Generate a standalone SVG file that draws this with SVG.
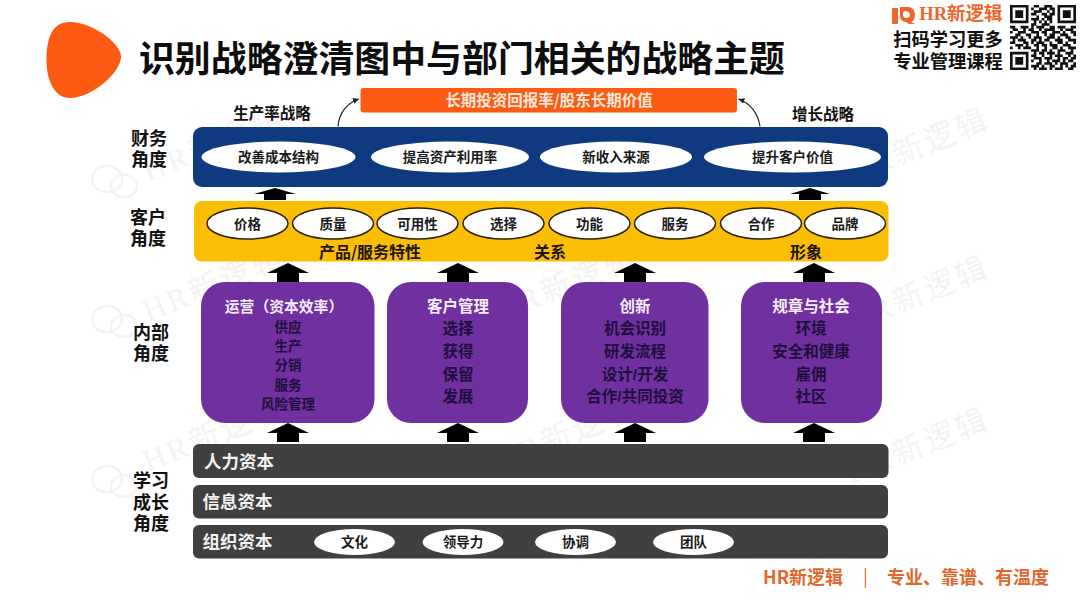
<svg xmlns="http://www.w3.org/2000/svg" width="1080" height="608" viewBox="0 0 1080 608">
<style>
text{font-family:"Noto Sans CJK SC","Noto Sans",sans-serif;font-weight:700;text-anchor:middle;dominant-baseline:central}
.wm{font-family:"Liberation Serif","Noto Sans CJK SC",serif;font-size:31px;font-weight:400;fill:#f3f3f3;letter-spacing:3px;text-anchor:start;dominant-baseline:auto}
.wi{fill:none;stroke:#f3f3f3;stroke-width:2.5}
.lab{font-family:"Liberation Sans","Noto Sans CJK SC",sans-serif;font-size:18px;fill:#111}
.br{font-family:"Liberation Sans","Noto Sans CJK SC",sans-serif;font-size:18.3px;fill:#111}
.top{font-size:15.5px;fill:#111}
.el{fill:#fff}
.elo{fill:#fff;stroke:#2b2208;stroke-width:1.5}
.et{font-size:13.5px;fill:#1a1a1a}
.hd{font-size:15.5px;fill:#f6eefc}
.it{font-family:"Liberation Sans","Noto Sans CJK SC",sans-serif;font-size:15.5px;fill:#1d0f3c}
.its{font-family:"Liberation Sans","Noto Sans CJK SC",sans-serif;font-size:13.5px;fill:#1d0f3c}
.pb{fill:#7030a0}
.db{fill:#404040}
.dt{font-size:17.5px;fill:#f2f2f2;text-anchor:start}
.ar{fill:#000}
.cv{fill:none;stroke:#222;stroke-width:1.2;marker-end:url(#tip)}
.f{font-size:18px;fill:#e2672c;text-anchor:start}
</style>
<defs>
<marker id="tip" markerWidth="8" markerHeight="8" refX="6" refY="3" orient="auto" markerUnits="userSpaceOnUse"><path d="M0 0L6 3L0 6Z" fill="#222"/></marker>
<g id="wi"><ellipse class="wi" cx="15" cy="14" rx="15" ry="13"/><ellipse class="wi" cx="32" cy="21" rx="13" ry="11"/></g>
</defs>
<rect width="1080" height="608" fill="#fff"/>
<g id="watermarks">
<use href="#wi" x="92" y="165"/><use href="#wi" x="92" y="305"/><use href="#wi" x="92" y="465"/>
<text class="wm" transform="translate(148 182) rotate(-22)">HR新逻辑</text>
<text class="wm" transform="translate(148 322) rotate(-22)">HR新逻辑</text>
<text class="wm" transform="translate(148 472) rotate(-22)">HR新逻辑</text>
<text class="wm" transform="translate(500 322) rotate(-22)">HR新逻辑</text>
<text class="wm" transform="translate(500 472) rotate(-22)">HR新逻辑</text>
<text class="wm" transform="translate(852 184) rotate(-22)">HR新逻辑</text>
<text class="wm" transform="translate(852 332) rotate(-22)">HR新逻辑</text>
<text class="wm" transform="translate(852 484) rotate(-22)">HR新逻辑</text>
</g>
<path id="blob" d="M70 22C92 22 121 43 121 57C121 72 92 98 70 98C54 98 46.500 80 46.500 60C46.500 38 52 22 70 22Z" fill="#fd5a14"/>
<text id="title" x="462" y="55.500" style="font-size:35.900px;fill:#0d0d0d">识别战略澄清图中与部门相关的战略主题</text>
<g id="brand">
<path d="M892 8h6v16h-6zM900 7h8c5 0 7 4 7 8s-2 6-4 7l4 2h-6l-3-2c-4 0-6-3-6-7s0-5 0-8zM905 11c-2 0-2 3-2 4s1 3 3 3 4-1 4-3-2-4-5-4z" fill="#f0662a" fill-rule="evenodd"/>
<text x="961" y="14" style="font-family:'Liberation Serif','Noto Sans CJK SC',serif;font-size:18.500px;fill:#f0662a">HR新逻辑</text>
<text class="br"><tspan x="948" y="38.500">扫码学习更多</tspan><tspan x="948" y="61">专业管理课程</tspan></text>
<path transform="translate(1010 5) scale(2.64 2.6)" fill="none" stroke="#111" stroke-width="1" d="M0 .5h7M0 1.500h1M6 1.500h1M0 2.500h1M2 2.500h3M6 2.500h1M0 3.500h1M2 3.500h3M6 3.500h1M0 4.500h1M2 4.500h3M6 4.500h1M0 5.500h1M6 5.500h1M0 6.500h7M18 .5h7M18 1.500h1M24 1.500h1M18 2.500h1M20 2.500h3M24 2.500h1M18 3.500h1M20 3.500h3M24 3.500h1M18 4.500h1M20 4.500h3M24 4.500h1M18 5.500h1M24 5.500h1M18 6.500h7M0 18.500h7M0 19.500h1M6 19.500h1M0 20.500h1M2 20.500h3M6 20.500h1M0 21.500h1M2 21.500h3M6 21.500h1M0 22.500h1M2 22.500h3M6 22.500h1M0 23.500h1M6 23.500h1M0 24.500h7M9 .5h2M13 .5h3M8 1.500h1M11 1.500h3M15 1.500h2M9 2.500h3M14 2.500h1M16 2.500h1M8 3.500h2M12 3.500h2M15 3.500h2M10 4.500h1M13 4.500h3M8 5.500h3M12 5.500h1M14 5.500h2M9 6.500h1M11 6.500h1M13 6.500h1M15 6.500h1M8 7.500h2M12 7.500h3M0 8.500h2M4 8.500h3M8 8.500h1M10 8.500h3M15 8.500h2M18 8.500h3M23 8.500h2M1 9.500h2M5 9.500h1M7 9.500h2M11 9.500h1M13 9.500h4M19 9.500h1M21 9.500h3M0 10.500h1M3 10.500h3M8 10.500h3M12 10.500h2M16 10.500h3M20 10.500h1M23 10.500h2M2 11.500h2M6 11.500h2M10 11.500h1M13 11.500h1M15 11.500h2M19 11.500h3M24 11.500h1M0 12.500h3M4 12.500h1M7 12.500h1M9 12.500h3M14 12.500h3M18 12.500h1M21 12.500h2M1 13.500h1M3 13.500h3M8 13.500h2M11 13.500h1M13 13.500h2M17 13.500h3M22 13.500h3M0 14.500h2M5 14.500h2M8 14.500h1M10 14.500h3M15 14.500h1M18 14.500h2M21 14.500h1M24 14.500h1M2 15.500h3M6 15.500h1M9 15.500h2M12 15.500h2M15 15.500h3M20 15.500h3M0 16.500h1M3 16.500h1M5 16.500h3M10 16.500h1M13 16.500h1M16 16.500h2M19 16.500h1M22 16.500h3M8 17.500h3M12 17.500h2M15 17.500h1M18 17.500h3M23 17.500h1M9 18.500h1M11 18.500h2M14 18.500h3M18 18.500h1M21 18.500h3M8 19.500h2M12 19.500h1M15 19.500h1M17 19.500h3M22 19.500h1M24 19.500h1M9 20.500h3M13 20.500h3M18 20.500h1M20 20.500h2M23 20.500h2M8 21.500h1M11 21.500h1M14 21.500h1M16 21.500h3M20 21.500h1M22 21.500h2M10 22.500h2M13 22.500h3M17 22.500h1M19 22.500h3M24 22.500h1M8 23.500h3M12 23.500h1M15 23.500h2M19 23.500h1M21 23.500h1M23 23.500h2M9 24.500h1M11 24.500h3M15 24.500h1M17 24.500h3M22 24.500h2"/>
</g>
<g id="connectors">
<path class="cv" d="M338 126.500C339 113 347 103 359 99"/>
<path class="cv" d="M760 126.500C758 113 750 103 738.500 99"/>
<path class="ar" d="M254 194L275 188L296 194H286V200H264V194Z"/>
<path class="ar" d="M790 194L810 188L830 194H821V200H799V194Z"/>
<path class="ar" d="M267 273L288 263L309 273H299V282H277V273Z"/>
<path class="ar" d="M437 273L458 263L479 273H469V282H447V273Z"/>
<path class="ar" d="M614 273L635 263L656 273H646V282H624V273Z"/>
<path class="ar" d="M793 273L814 263L835 273H825V282H803V273Z"/>
<path class="ar" d="M267 433L288 423L309 433H299V442H277V433Z"/>
<path class="ar" d="M437 433L458 423L479 433H469V442H447V433Z"/>
<path class="ar" d="M614 433L635 423L656 433H646V442H624V433Z"/>
<path class="ar" d="M793 433L814 423L835 433H825V442H803V433Z"/>
</g>
<g id="labels">
<text class="lab"><tspan x="149" y="138.500">财务</tspan><tspan x="149" y="159.500">角度</tspan></text>
<text class="lab"><tspan x="148" y="217.500">客户</tspan><tspan x="148" y="238.500">角度</tspan></text>
<text class="lab"><tspan x="151" y="332.500">内部</tspan><tspan x="151" y="353.500">角度</tspan></text>
<text class="lab"><tspan x="151" y="480.500">学习</tspan><tspan x="151" y="502.500">成长</tspan><tspan x="151" y="523.500">角度</tspan></text>
<text class="top" x="272" y="111.500">生产率战略</text>
<text class="top" x="823" y="112.500">增长战略</text>
</g>
<g id="goal"><rect x="360.500" y="88" width="376.500" height="24.500" rx="3" fill="#fd5a14"/><text x="549" y="99" style="font-size:15.500px;fill:#fbe6da">长期投资回报率/股东长期价值</text></g>
<g id="finance">
<rect x="193" y="127" width="695" height="60" rx="9" fill="#0f3a80"/>
<ellipse class="el" cx="278.500" cy="157" rx="77" ry="15.500"/><text class="et" x="278.500" y="156">改善成本结构</text>
<ellipse class="el" cx="450" cy="157" rx="79" ry="15.500"/><text class="et" x="450" y="156">提高资产利用率</text>
<ellipse class="el" cx="616" cy="157" rx="76" ry="15.500"/><text class="et" x="616" y="156">新收入来源</text>
<ellipse class="el" cx="792.500" cy="157" rx="88.500" ry="15.500"/><text class="et" x="792.500" y="156">提升客户价值</text>
</g>
<g id="customer">
<rect x="194" y="201" width="694.500" height="60.500" rx="8" fill="#fcbd05"/>
<ellipse class="elo" cx="247.500" cy="223.500" rx="40.500" ry="15.500"/><text class="et" x="247.500" y="222.500">价格</text>
<ellipse class="elo" cx="333" cy="223.500" rx="40.500" ry="15.500"/><text class="et" x="333" y="222.500">质量</text>
<ellipse class="elo" cx="417.500" cy="223.500" rx="40.500" ry="15.500"/><text class="et" x="417.500" y="222.500">可用性</text>
<ellipse class="elo" cx="503.500" cy="223.500" rx="40.500" ry="15.500"/><text class="et" x="503.500" y="222.500">选择</text>
<ellipse class="elo" cx="589.500" cy="223.500" rx="40.500" ry="15.500"/><text class="et" x="589.500" y="222.500">功能</text>
<ellipse class="elo" cx="675" cy="223.500" rx="40.500" ry="15.500"/><text class="et" x="675" y="222.500">服务</text>
<ellipse class="elo" cx="761" cy="223.500" rx="40.500" ry="15.500"/><text class="et" x="761" y="222.500">合作</text>
<ellipse class="elo" cx="845" cy="223.500" rx="40.500" ry="15.500"/><text class="et" x="845" y="222.500">品牌</text>
<text x="370" y="250.500" style="font-size:16px;fill:#1a1505">产品/服务特性</text>
<text x="550" y="250.500" style="font-size:16px;fill:#1a1505">关系</text>
<text x="806" y="250.500" style="font-size:16px;fill:#1a1505">形象</text>
</g>
<g id="ops"><rect class="pb" x="201" y="282" width="173.500" height="141" rx="24"/><text class="hd" x="284" y="305" style="font-size:14.800px">运营（资本效率）</text><text class="its"><tspan x="288" y="327">供应</tspan><tspan x="288" y="346">生产</tspan><tspan x="288" y="365">分销</tspan><tspan x="288" y="385">服务</tspan><tspan x="288" y="404">风险管理</tspan></text></g>
<g id="crm"><rect class="pb" x="387" y="282" width="141" height="141" rx="24"/><text class="hd" x="458" y="305">客户管理</text><text class="it"><tspan x="458" y="328">选择</tspan><tspan x="458" y="351">获得</tspan><tspan x="458" y="374">保留</tspan><tspan x="458" y="396">发展</tspan></text></g>
<g id="innovation"><rect class="pb" x="561" y="282" width="147.500" height="141" rx="24"/><text class="hd" x="635" y="305">创新</text><text class="it"><tspan x="635" y="328">机会识别</tspan><tspan x="635" y="351">研发流程</tspan><tspan x="635" y="374">设计/开发</tspan><tspan x="635" y="396">合作/共同投资</tspan></text></g>
<g id="society"><rect class="pb" x="741" y="282" width="141" height="141" rx="24"/><text class="hd" x="811" y="305">规章与社会</text><text class="it"><tspan x="811" y="328">环境</tspan><tspan x="811" y="351">安全和健康</tspan><tspan x="811" y="374">雇佣</tspan><tspan x="811" y="396">社区</tspan></text></g>
<g id="human"><rect class="db" x="193" y="444" width="695.500" height="34" rx="6"/><text class="dt" x="204" y="460">人力资本</text></g>
<g id="info"><rect class="db" x="193" y="485" width="695" height="33.500" rx="6"/><text class="dt" x="202.500" y="500.500">信息资本</text></g>
<g id="org"><rect class="db" x="193" y="525" width="695" height="33.500" rx="6"/><text class="dt" x="202.500" y="540.500">组织资本</text>
<ellipse class="el" cx="354.500" cy="542" rx="40.500" ry="13"/><text class="et" x="354.500" y="541">文化</text>
<ellipse class="el" cx="463" cy="542" rx="40.500" ry="13"/><text class="et" x="463" y="541">领导力</text>
<ellipse class="el" cx="575.500" cy="542" rx="40.500" ry="13"/><text class="et" x="575.500" y="541">协调</text>
<ellipse class="el" cx="693.500" cy="542" rx="40.500" ry="13"/><text class="et" x="693.500" y="541">团队</text></g>
<g id="footer"><text class="f" x="763" y="576">HR新逻辑</text><text class="f" x="863" y="575" style="font-weight:400">|</text><text class="f" x="887" y="576">专业、靠谱、有温度</text></g>
</svg>
